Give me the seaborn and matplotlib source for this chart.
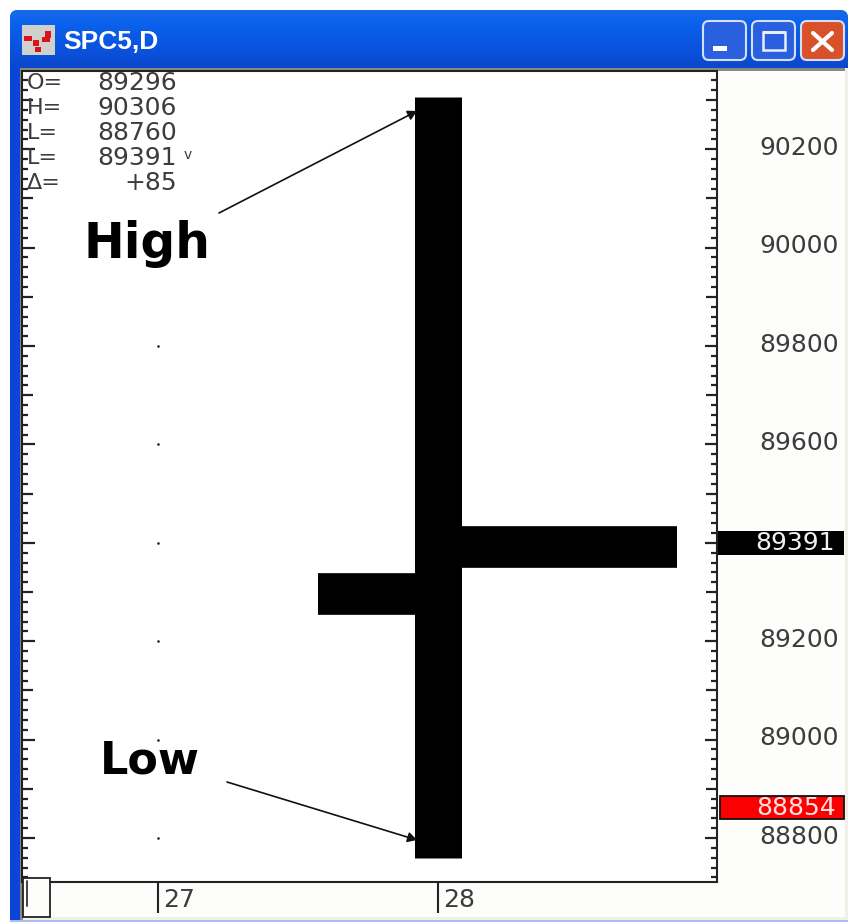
import numpy as np
import pandas as pd
import matplotlib
matplotlib.use("Agg")
import matplotlib.pyplot as plt
from matplotlib.patches import Rectangle, FancyBboxPatch
from matplotlib.transforms import ScaledTranslation
from matplotlib.colors import LinearSegmentedColormap
import seaborn as sns

# ---------- data ----------
bar_day = [27.998, 27.998]
open_value = 89296
high_value = 90306
low_value = 88760
close_value = 89391
delta_text = "+85"
last_marker = 88854
open_tick_days = [27.571, 28]
close_tick_days = [28, 28.854]
day_ticks = [27, 28]
day_labels = ["27", "28"]
price_ticks = [88800, 89000, 89200, 89400, 89600, 89800, 90000, 90200]
price_labels = ["88800", "89000", "89200", "", "89600", "89800", "90000", "90200"]
grid_days = [27, 27, 27, 27, 27, 27]
grid_prices = [88800, 89000, 89200, 89400, 89600, 89800]
readout_names = ["O=", "H=", "L=", "L=", "\u0394="]
readout_values = ["89296", "90306", "88760", "89391", "+85"]

W, H = 848, 922
sns.set_theme(style="white")
plt.rcParams["font.family"] = ["DejaVu Sans"]
fig = plt.figure(figsize=(W / 100, H / 100), dpi=100, facecolor="white")

def px_axes(z):
    a = fig.add_axes([0, 0, 1, 1], zorder=z)
    a.set_xlim(0, W)
    a.set_ylim(H, 0)
    a.axis("off")
    a.patch.set_alpha(0)
    return a

# ---------- window chrome ----------
bg = px_axes(0)
bg.add_patch(FancyBboxPatch((10, 10), 838, 920, boxstyle="round,pad=0,rounding_size=8",
                            fc="#0a50dc", ec="none"))
grad = LinearSegmentedColormap.from_list(
    "title", ["#1a6ae8", "#0a63ee", "#0a5be6", "#0a55e0", "#0a4fd8", "#0b48cc"])
im = bg.imshow(np.linspace(0, 1, 60)[:, None], extent=(10, 848, 68, 10), cmap=grad,
               aspect="auto", zorder=1)
clip = FancyBboxPatch((10, 10), 838, 100, boxstyle="round,pad=0,rounding_size=8",
                      transform=bg.transData, fc="none", ec="none")
bg.add_patch(clip)
im.set_clip_path(clip)
bg.set_xlim(0, W)
bg.set_ylim(H, 0)
bg.add_patch(Rectangle((10, 68), 10, 852, fc="#0a45d8", ec="none", zorder=1))
bg.add_patch(Rectangle((20, 68), 825, 852, fc="#fdfdfb", ec="none", zorder=1))
bg.add_patch(Rectangle((845, 68), 3, 852, fc="#f2f0e6", ec="none", zorder=1))
bg.add_patch(Rectangle((20, 917), 828, 3, fc="#f2f0e6", ec="none", zorder=1))
bg.add_patch(Rectangle((10, 920), 838, 2, fc="#a9c0ee", ec="none", zorder=1))
bg.add_patch(Rectangle((20, 68), 825, 3, fc="#8c8a80", ec="none", zorder=2))
bg.add_patch(Rectangle((20, 68), 3, 852, fc="#8c8a80", ec="none", zorder=2))

# title icon and title
bg.add_patch(Rectangle((22, 25), 33, 30, fc="#d0d0cc", ec="none", zorder=3))
for bx, by, bw, bh in [(24, 36, 8, 5), (33, 40, 6, 6), (35, 47, 6, 5), (42, 37, 8, 5), (45, 31, 6, 7)]:
    bg.add_patch(Rectangle((bx, by), bw, bh, fc="#d8141c", ec="none", zorder=4))
bg.text(63, 42, "SPC5,D", color="white", family="Liberation Sans", weight="bold",
        fontsize=19, ha="left", va="center", zorder=4)

# buttons
for bx, fc in [(703, "#2a5fe0"), (752, "#2a5fe0"), (801, "#d9512a")]:
    bg.add_patch(FancyBboxPatch((bx, 21), 43, 39, boxstyle="round,pad=0,rounding_size=6",
                                fc=fc, ec="#d5dff5", lw=1.5, zorder=3))
bg.add_patch(Rectangle((713, 46), 14, 5, fc="white", ec="none", zorder=4))
bg.add_patch(Rectangle((763, 32), 22, 18, fc="none", ec="#e8eefc", lw=1.8, zorder=4))
bg.add_patch(Rectangle((763, 31), 22, 3, fc="#e8eefc", ec="none", zorder=4))
bg.plot([813, 832], [33, 50], color="white", lw=3, zorder=4)
bg.plot([832, 813], [33, 50], color="white", lw=3, zorder=4)

# ---------- chart ----------
ax = fig.add_axes([22 / W, 1 - 882 / H, (717 - 22) / W, (882 - 71) / H], zorder=1)
ax.set_facecolor("white")

sns.lineplot(x=bar_day, y=[low_value, high_value], ax=ax, color="black", lw=33.84,
             estimator=None, sort=False, solid_capstyle="butt")
sns.lineplot(x=open_tick_days, y=[open_value, open_value], ax=ax, color="black", lw=30,
             estimator=None, sort=False, solid_capstyle="butt")
sns.lineplot(x=close_tick_days, y=[close_value, close_value], ax=ax, color="black", lw=30,
             estimator=None, sort=False, solid_capstyle="butt")
sns.scatterplot(x=grid_days, y=grid_prices, ax=ax, color="#222222", s=3.5, linewidth=0)

ax.set_xlim(26.514, 28.996)
ax.set_ylim(88710.6, 90359)
ax.set_xlabel("")
ax.set_ylabel("")

ax.set_yticks(price_ticks, price_labels)
ax.set_yticks(np.arange(88720, 90360, 20), minor=True)
ax.tick_params(axis="y", which="major", direction="in", left=True, right=True, length=9, width=1.6,
               color="#222222", labelleft=False, labelright=True, labelsize=18,
               labelcolor="#3c3c3c", pad=87.5)
ax.tick_params(axis="y", which="minor", direction="in", left=True, right=True, length=4, width=1.6,
               color="#222222")
for t, v in zip(ax.yaxis.get_minor_ticks(), ax.yaxis.get_minorticklocs()):
    if round(v) % 100 == 0:
        t.tick1line.set_markersize(7.6)
        t.tick2line.set_markersize(7.6)
for lab in ax.get_yticklabels():
    lab.set_ha("right")
    lab.set_transform(lab.get_transform() + ScaledTranslation(0, 4 / 100, fig.dpi_scale_trans))

ax.set_xticks(day_ticks, day_labels)
ax.tick_params(axis="x", direction="out", bottom=True, length=22, width=1.5, color="#222222",
               labelsize=18, labelcolor="#3c3c3c", pad=-18)
for lab in ax.get_xticklabels():
    lab.set_ha("left")
    lab.set_transform(lab.get_transform() + ScaledTranslation(5 / 100, 0, fig.dpi_scale_trans))
for s in ax.spines.values():
    s.set_visible(True)
    s.set_color("#222222")
    s.set_linewidth(1.5)

# ---------- overlay ----------
top = px_axes(2)
for i, (n, v) in enumerate(zip(readout_names, readout_values)):
    y = 83 + 25 * i
    top.text(27, y, n, fontsize=16, color="#3c3c3c", ha="left", va="center")
    top.text(177, y, v, fontsize=18, color="#3c3c3c", ha="right", va="center")
top.text(184, 155, "v", fontsize=10, color="#3c3c3c", ha="left", va="center")

top.text(84, 258, "High", family="DejaVu Sans", weight="bold", fontsize=35, color="black",
         ha="left", va="baseline")
top.text(100, 773, "Low", family="DejaVu Sans", weight="bold", fontsize=32, color="black",
         ha="left", va="baseline")
arrow = dict(arrowstyle="-|>,head_length=0.45,head_width=0.25", color="#111111", lw=1.2,
             shrinkA=0, shrinkB=0)
top.annotate("", xy=(417, 111), xytext=(219, 213), arrowprops=arrow)
top.annotate("", xy=(417, 840), xytext=(227, 782), arrowprops=arrow)

top.add_patch(Rectangle((718, 531), 126, 24, fc="black", ec="none"))
top.text(835, 543, str(close_value), fontsize=18, color="#f0f0f0", ha="right", va="center")
top.add_patch(Rectangle((720, 796), 124, 23, fc="#fb0000", ec="#111111", lw=1.3))
top.text(836, 808, str(last_marker), fontsize=18, color="#ffe0e0", ha="right", va="center")

top.add_patch(Rectangle((23, 878), 27, 39, fc="#fdfdfb", ec="#222222", lw=1.3))
top.plot([27, 27], [881, 906], color="#333333", lw=1.3)

fig.savefig("out.png", dpi=100)
